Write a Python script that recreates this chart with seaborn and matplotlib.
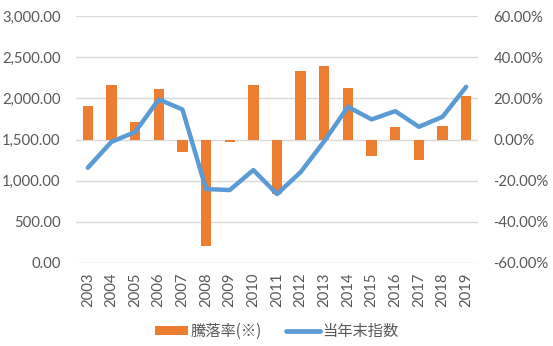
import matplotlib
matplotlib.use("Agg")
import matplotlib.pyplot as plt
from matplotlib.patches import Patch
from matplotlib.lines import Line2D
from matplotlib.ticker import FuncFormatter, MultipleLocator
import numpy as np
import pandas as pd
import seaborn as sns

years = [2003, 2004, 2005, 2006, 2007, 2008, 2009, 2010, 2011, 2012,
         2013, 2014, 2015, 2016, 2017, 2018, 2019]
change_pct = [16.5, 26.7, 8.3, 24.3, -6.2, -51.8, -1.0, 26.7, -26.7, 33.5,
              35.9, 25.2, -7.8, 6.3, -10.0, 6.8, 20.9]
year_end_index = [1157, 1472, 1590, 1987, 1865, 898, 886, 1129, 837, 1104,
                  1480, 1897, 1744, 1845, 1654, 1776, 2140]

bar_label = "騰落率(※)"
line_label = "当年末指数"

df = pd.DataFrame({"year": [str(y) for y in years],
                   "pos": np.arange(len(years)),
                   "change": change_pct,
                   "index": year_end_index})

sns.set_theme(style="white")
plt.rcParams["font.family"] = ["Lato", "Noto Sans CJK JP", "DejaVu Sans"]

ORANGE = "#ED7D31"
BLUE = "#5B9BD5"
GRID = "#D9D9D9"
TXT = "#595959"
FS = 10.7

fig = plt.figure(figsize=(5.53, 3.46), dpi=100)
ax = fig.add_axes([76 / 553, 1 - 263 / 346, (478 - 76) / 553, (263 - 16) / 346])
ax2 = ax.twinx()

# bars: annual change, percent scale (shown on the right)
sns.barplot(data=df, x="year", y="change", color=ORANGE, width=0.44,
            saturation=1, linewidth=0, ax=ax, zorder=2)
ax.set_ylim(-60, 60)
ax.yaxis.set_major_locator(MultipleLocator(20))
ax.yaxis.set_major_formatter(FuncFormatter(lambda v, p: f"{v:.2f}%"))
ax.yaxis.tick_right()
ax.set_xlim(-0.5, len(years) - 0.5)
ax.grid(axis="y", color=GRID, linewidth=1, zorder=0)
ax.set_axisbelow(True)

# line: year-end index level (shown on the left)
sns.lineplot(data=df, x="pos", y="index", color=BLUE, linewidth=3.2,
             ax=ax2, solid_capstyle="round")
ax2.set_ylim(0, 3000)
ax2.yaxis.set_major_locator(MultipleLocator(500))
ax2.yaxis.set_major_formatter(FuncFormatter(lambda v, p: f"{v:,.2f}"))
ax2.yaxis.tick_left()
ax2.set_xlim(-0.5, len(years) - 0.5)

for a in (ax, ax2):
    a.set_xlabel("")
    a.set_ylabel("")
    for s in a.spines.values():
        s.set_visible(False)
    a.tick_params(axis="both", length=0, colors=TXT, labelsize=FS)

ax.tick_params(axis="x", rotation=90, pad=7)
ax.tick_params(axis="y", pad=11)
ax2.tick_params(axis="y", pad=11)
for lbl in ax.get_xticklabels():
    lbl.set_color(TXT)

handles = [Patch(facecolor=ORANGE, edgecolor="none", label=bar_label),
           Line2D([0], [0], color=BLUE, linewidth=3.4, label=line_label)]
leg = fig.legend(handles=handles, loc="center", bbox_to_anchor=(0.5, 1 - 331.5 / 346),
                 ncol=2, frameon=False, handlelength=2.2,
                 handleheight=0.45, columnspacing=1.6, handletextpad=0.15,
                 prop={"family": ["Noto Sans CJK JP", "DejaVu Sans"], "size": 11})
for t in leg.get_texts():
    t.set_color(TXT)

fig.savefig("out.png", dpi=100)
